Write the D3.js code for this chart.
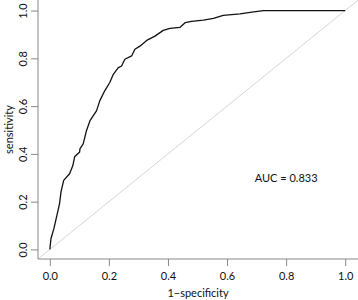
<!DOCTYPE html>
<html>
<head>
<meta charset="utf-8">
<script src="https://cdn.jsdelivr.net/npm/d3@7"></script>
<style>
  body { margin: 0; background: #fff; }
  text { font-family: Lato, "Open Sans", sans-serif; fill: #111; }
</style>
</head>
<body>
<div id="roc"></div>
<script>
{
// ROC curve: 1-specificity and sensitivity
const fpr = [0, 0.004, 0.014, 0.024, 0.033, 0.038, 0.047, 0.067, 0.078, 0.084, 0.101,
  0.102, 0.113, 0.124, 0.136, 0.158, 0.169, 0.186, 0.203, 0.215, 0.232, 0.243, 0.254,
  0.277, 0.288, 0.305, 0.328, 0.356, 0.384, 0.407, 0.441, 0.458, 0.480, 0.520, 0.554,
  0.587, 0.644, 0.684, 0.723, 1];
const tpr = [0, 0.046, 0.088, 0.143, 0.192, 0.242, 0.289, 0.317, 0.351, 0.388, 0.408,
  0.421, 0.442, 0.497, 0.539, 0.580, 0.622, 0.664, 0.699, 0.733, 0.761, 0.768, 0.796,
  0.810, 0.838, 0.851, 0.875, 0.893, 0.917, 0.925, 0.930, 0.949, 0.955, 0.960, 0.967,
  0.980, 0.986, 0.993, 1.0, 1.0];
const ticks = [0, 0.2, 0.4, 0.6, 0.8, 1.0];
const aucLabel = 'AUC = 0.833';

const width = 358;
const height = 300;
const margin = {top: 1, right: 1, bottom: 41, left: 38};

let svg = d3.select('#roc')
    .append('svg')
    .attr('width', width)
    .attr('height', height);

let x = d3.scaleLinear()
    .domain([-0.04, 1.04])
    .range([margin.left, width - margin.right]);

let y = d3.scaleLinear()
    .domain([-0.04, 1.04])
    .range([height - margin.bottom, margin.top]);

svg.append('clipPath').attr('id', 'plotclip')
    .append('rect')
    .attr('x', margin.left)
    .attr('y', 0)
    .attr('width', width - margin.left)
    .attr('height', height - margin.bottom);

// reference diagonal across the whole plot region
svg.append('line')
    .attr('clip-path', 'url(#plotclip)')
    .attr('x1', x(-0.1)).attr('y1', y(-0.1))
    .attr('x2', x(1.1)).attr('y2', y(1.1))
    .style('stroke', '#d6d6d6')
    .style('stroke-width', 1);

let pts = fpr.map((d, i) => [d, tpr[i]]);
svg.append('path')
    .datum(pts)
    .attr('d', d3.line().x(d => x(d[0])).y(d => y(d[1])))
    .style('fill', 'none')
    .style('stroke', '#111')
    .style('stroke-width', 1.3)
    .style('stroke-linejoin', 'round');

// L-shaped box
svg.append('path')
    .attr('d', `M${margin.left},0V${height - margin.bottom}H${width}`)
    .style('fill', 'none')
    .style('stroke', '#888')
    .style('stroke-width', 1);

let xAxis = svg.append('g')
    .attr('transform', `translate(0, ${height - margin.bottom})`)
    .call(d3.axisBottom(x).tickValues(ticks).tickFormat(d3.format('.1f')).tickSize(7).tickPadding(6));
xAxis.select('.domain').remove();
xAxis.selectAll('line').style('stroke', '#888');
xAxis.selectAll('text').style('font-size', '11px').style('fill', '#111');

let yAxis = svg.append('g')
    .attr('transform', `translate(${margin.left}, 0)`)
    .call(d3.axisLeft(y).tickValues(ticks).tickFormat(d3.format('.1f')).tickSize(7));
yAxis.select('.domain').remove();
yAxis.selectAll('line').style('stroke', '#888');
yAxis.selectAll('text')
    .attr('x', 0).attr('dy', 0)
    .attr('transform', 'translate(-15.5, 0) rotate(-90)')
    .style('text-anchor', 'middle')
    .attr('dominant-baseline', 'central')
    .style('font-size', '11px')
    .style('fill', '#111');

svg.append('text')
    .attr('x', (margin.left + width) / 2)
    .attr('y', 297)
    .style('text-anchor', 'middle')
    .style('font-size', '11px')
    .text('1\u2212specificity');

svg.append('text')
    .attr('transform', `translate(8, ${(height - margin.bottom) / 2}) rotate(-90)`)
    .attr('dominant-baseline', 'central')
    .style('text-anchor', 'middle')
    .style('font-size', '11px')
    .text('sensitivity');

svg.append('text')
    .attr('x', x(0.8))
    .attr('y', y(0.3))
    .attr('dominant-baseline', 'central')
    .style('text-anchor', 'middle')
    .style('font-size', '11px')
    .text(aucLabel);
}
</script>
</body>
</html>
